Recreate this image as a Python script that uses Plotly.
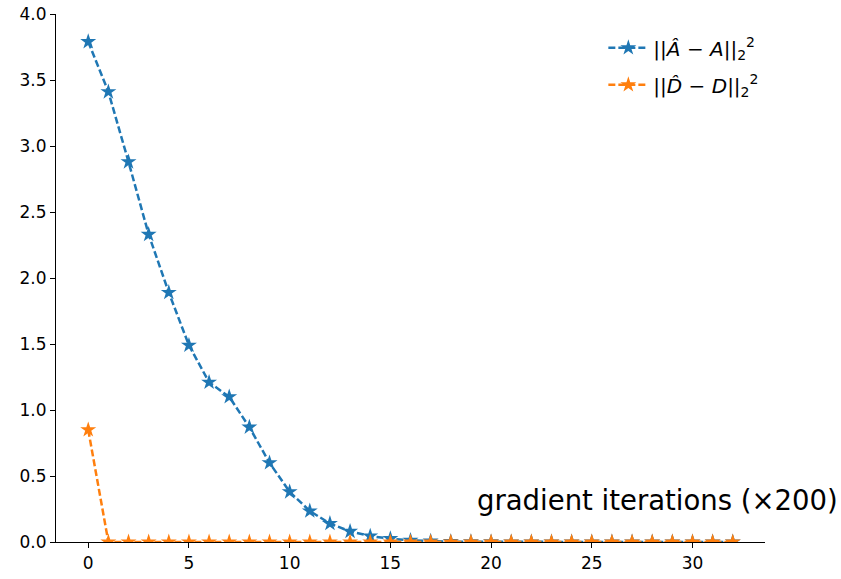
import plotly.graph_objects as go

# iteration index (units of 200 gradient steps)
iterations = list(range(33))

# squared error of the estimated A
err_A = [3.79, 3.41, 2.88, 2.33, 1.89, 1.49, 1.21, 1.10, 0.87, 0.60,
         0.38, 0.235, 0.14, 0.08, 0.045, 0.025, 0.012, 0.006, 0.003, 0.002,
         0.001, 0.0, 0.0, 0.0, 0.0, 0.0, 0.0, 0.0, 0.0, 0.0,
         0.0, 0.0, 0.0]

# squared error of the estimated D
err_D = [0.85] + [0.0] * 32

label_A = "||<i>Â</i> − <i>A</i>||<sub>2</sub><sup>2</sup>"
label_D = "||<i>D̂</i> − <i>D</i>||<sub>2</sub><sup>2</sup>"

fig = go.Figure()
for y, name, color, grp in [(err_A, label_A, "#1f77b4", "a"), (err_D, label_D, "#ff7f0e", "d")]:
    fig.add_trace(go.Scatter(
        x=iterations, y=y, name=name, mode="lines+markers", legendgroup=grp,
        line=dict(color=color, width=2.5, dash="7px,3px"),
        marker=dict(symbol="star", size=12, color=color),
        cliponaxis=True,
    ))

fig.update_layout(
    width=841, height=579,
    margin=dict(l=56, r=76, t=14, b=37),
    paper_bgcolor="white", plot_bgcolor="white",
    font=dict(family="DejaVu Sans", size=17, color="black"),
    showlegend=True,
    legend=dict(x=0.772, y=0.973, xanchor="left", yanchor="top",
                bgcolor="rgba(0,0,0,0)", font=dict(size=20),
                tracegroupgap=8, itemwidth=40),
    xaxis=dict(range=[-1.6, 33.6], tickmode="array", automargin=False,
               tickvals=[0, 5, 10, 15, 20, 25, 30],
               showgrid=False, zeroline=False, showline=True,
               linecolor="black", linewidth=1.2,
               ticks="outside", ticklen=5, tickwidth=1.2, tickcolor="black"),
    yaxis=dict(range=[0, 4], tickmode="array", automargin=False,
               tickvals=[0, 0.5, 1, 1.5, 2, 2.5, 3, 3.5, 4],
               ticktext=["0.0", "0.5", "1.0", "1.5", "2.0", "2.5", "3.0", "3.5", "4.0"],
               showgrid=False, zeroline=False, showline=True,
               linecolor="black", linewidth=1.2,
               ticks="outside", ticklen=5, tickwidth=1.2, tickcolor="black"),
    annotations=[dict(
        text="gradient iterations (×200)", xref="paper", yref="paper",
        x=1.106, y=0.0795, xanchor="right", yanchor="middle",
        showarrow=False, font=dict(size=27.5, color="black"),
    )],
)

fig.write_html("out.html")
